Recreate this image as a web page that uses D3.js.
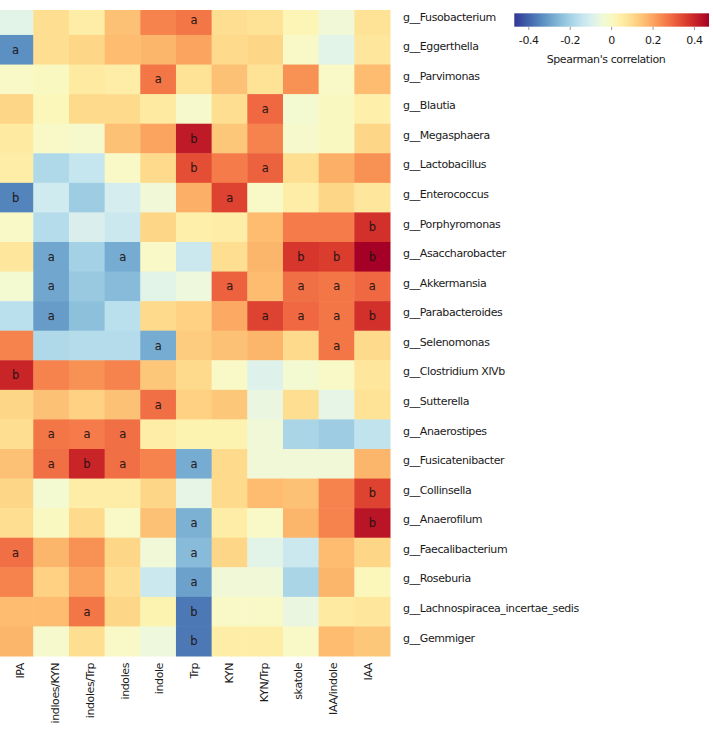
<!DOCTYPE html>
<html><head><meta charset="utf-8">
<script src="https://cdn.jsdelivr.net/npm/d3@7"></script>
<style>
body{margin:0;background:#fff}
svg{display:block}
text{font-family:"DejaVu Sans",Verdana,sans-serif;letter-spacing:-0.4px}
</style>
</head><body><svg id="chart" width="713" height="732"></svg>
<script>
const columns = ["IPA","indloes/KYN","indoles/Trp","indoles","indole","Trp","KYN","KYN/Trp","skatole","IAA/indole","IAA"];
const genera = ["g__Fusobacterium","g__Eggerthella","g__Parvimonas","g__Blautia","g__Megasphaera","g__Lactobacillus","g__Enterococcus","g__Porphyromonas","g__Asaccharobacter","g__Akkermansia","g__Parabacteroides","g__Selenomonas","g__Clostridium XlVb","g__Sutterella","g__Anaerostipes","g__Fusicatenibacter","g__Collinsella","g__Anaerofilum","g__Faecalibacterium","g__Roseburia","g__Lachnospiracea_incertae_sedis","g__Gemmiger"];
const rho = [
  [-0.08, 0.09, 0.05, 0.15, 0.25, 0.27, 0.09, 0.08, 0.02,-0.04, 0.08],
  [-0.33, 0.09, 0.11, 0.16, 0.17, 0.20, 0.10, 0.11,-0.01,-0.08, 0.07],
  [-0.01, 0.00, 0.06, 0.05, 0.27, 0.08, 0.15, 0.08, 0.23,-0.01, 0.16],
  [ 0.11, 0.01, 0.10, 0.10, 0.06,-0.02, 0.09, 0.29,-0.03, 0.00, 0.04],
  [ 0.06,-0.01,-0.02, 0.15, 0.20, 0.42, 0.14, 0.25,-0.02, 0.00, 0.11],
  [ 0.05,-0.18,-0.14,-0.01, 0.10, 0.33, 0.26, 0.30, 0.09, 0.18, 0.23],
  [-0.35,-0.12,-0.21,-0.11,-0.04, 0.18, 0.35,-0.01, 0.05, 0.11, 0.07],
  [-0.01,-0.17,-0.10,-0.13, 0.11, 0.04, 0.05, 0.16, 0.26, 0.26, 0.38],
  [ 0.07,-0.29,-0.20,-0.28,-0.01,-0.13, 0.09, 0.17, 0.37, 0.36, 0.47],
  [-0.03,-0.29,-0.22,-0.25,-0.08,-0.05, 0.30, 0.16, 0.28, 0.27, 0.29],
  [-0.16,-0.31,-0.24,-0.16, 0.10, 0.12, 0.19, 0.35, 0.29, 0.27, 0.38],
  [ 0.25,-0.18,-0.17,-0.17,-0.28, 0.13, 0.15, 0.17, 0.10, 0.27, 0.10],
  [ 0.40, 0.25, 0.23, 0.25, 0.14, 0.10,-0.01,-0.09,-0.03,-0.01, 0.07],
  [ 0.11, 0.15, 0.12, 0.15, 0.28, 0.12, 0.14,-0.06, 0.09,-0.07, 0.08],
  [ 0.09, 0.27, 0.26, 0.28, 0.05, 0.03, 0.03,-0.04,-0.19,-0.21,-0.15],
  [ 0.15, 0.28, 0.40, 0.28, 0.25,-0.28, 0.10,-0.04,-0.04,-0.04, 0.17],
  [ 0.11,-0.03, 0.05, 0.05, 0.11,-0.07, 0.10, 0.16, 0.15, 0.25, 0.35],
  [ 0.09, 0.00, 0.10,-0.01, 0.15,-0.27, 0.05,-0.01, 0.17, 0.25, 0.43],
  [ 0.28, 0.17, 0.23, 0.11,-0.04,-0.25, 0.11,-0.08,-0.13, 0.16, 0.11],
  [ 0.25, 0.12, 0.20, 0.09,-0.13,-0.30,-0.04,-0.04,-0.19, 0.17, 0.01],
  [ 0.16, 0.16, 0.27, 0.11, 0.03,-0.37,-0.01,-0.01,-0.06, 0.06, 0.07],
  [ 0.17,-0.02, 0.09,-0.01,-0.05,-0.37, 0.05, 0.05,-0.01, 0.16, 0.14]
];
const signif = [
  ["","","","","","a","","","","",""],
  ["a","","","","","","","","","",""],
  ["","","","","a","","","","","",""],
  ["","","","","","","","a","","",""],
  ["","","","","","b","","","","",""],
  ["","","","","","b","","a","","",""],
  ["b","","","","","","a","","","",""],
  ["","","","","","","","","","","b"],
  ["","a","","a","","","","","b","b","b"],
  ["","a","","","","","a","","a","a","a"],
  ["","a","","","","","","a","a","a","b"],
  ["","","","","a","","","","","a",""],
  ["b","","","","","","","","","",""],
  ["","","","","a","","","","","",""],
  ["","a","a","a","","","","","","",""],
  ["","a","b","a","","a","","","","",""],
  ["","","","","","","","","","","b"],
  ["","","","","","a","","","","","b"],
  ["a","","","","","a","","","","",""],
  ["","","","","","a","","","","",""],
  ["","","a","","","b","","","","",""],
  ["","","","","","b","","","","",""]
];
const legendTicks = [-0.4, -0.2, 0, 0.2, 0.4];
const legendTitle = "Spearman's correlation";

const svg = d3.select("#chart");
const x = d3.scaleBand().domain(columns).range([-2.4, 390]);
const y = d3.scaleBand().domain(genera).range([5.4, 656]);
const color = d3.scaleSequential(t => d3.interpolateRdYlBu(1 - t)).domain([-0.47, 0.47]);

svg.append("defs").append("clipPath").attr("id","clipGrid")
  .append("rect").attr("x",0).attr("y",10).attr("width",400).attr("height",660);

const cells = [];
rho.forEach((row, i) => row.forEach((v, j) => cells.push({g: genera[i], c: columns[j], v, s: signif[i][j]})));

const grid = svg.append("g").attr("clip-path","url(#clipGrid)");
grid.selectAll("rect").data(cells).join("rect")
  .attr("x", d => x(d.c)).attr("y", d => y(d.g))
  .attr("width", x.bandwidth() + 0.5).attr("height", y.bandwidth() + 0.5)
  .attr("fill", d => color(d.v));

grid.selectAll("text").data(cells.filter(d => d.s)).join("text")
  .attr("x", d => x(d.c) + x.bandwidth()/2)
  .attr("y", d => y(d.g) + y.bandwidth()/2)
  .attr("dy","0.35em").attr("text-anchor","middle")
  .attr("font-size", 11.5).attr("fill","#1e1212").attr("fill-opacity",0.9)
  .attr("stroke","#1e1212").attr("stroke-width",0.25).attr("stroke-opacity",0.6)
  .attr("letter-spacing", 0)
  .text(d => d.s);

// row labels
svg.append("g").selectAll("text").data(genera).join("text")
  .attr("x", 403).attr("y", d => y(d) + y.bandwidth()/2 - 3.5)
  .attr("dy","0.35em").attr("font-size",11).attr("fill","#1a1a1a")
  .text(d => d);

// column labels
const xl = d3.scalePoint().domain(columns).range([20.5, 368]);
svg.append("g").selectAll("text").data(columns).join("text")
  .attr("transform", d => `translate(${xl(d)},663) rotate(-90)`)
  .attr("dy","0.35em").attr("text-anchor","end").attr("font-size",11).attr("fill","#1a1a1a")
  .text(d => d);

// legend
const lx = d3.scaleLinear().domain([-0.47, 0.47]).range([514.3, 709]);
const grad = svg.select("defs").append("linearGradient").attr("id","lg")
  .attr("x1","0%").attr("x2","100%").attr("y1","0%").attr("y2","0%");
d3.range(0, 1.0001, 0.05).forEach(t => grad.append("stop")
  .attr("offset", (t*100)+"%").attr("stop-color", d3.interpolateRdYlBu(1 - t)));
svg.append("rect").attr("x", lx(-0.47)).attr("y", 13.3)
  .attr("width", lx(0.47) - lx(-0.47)).attr("height", 13.4).attr("fill","url(#lg)");
const lg = svg.append("g");
lg.selectAll("line").data(legendTicks).join("line")
  .attr("x1", d => lx(d)).attr("x2", d => lx(d)).attr("y1", 26.7).attr("y2", 30)
  .attr("stroke","#999").attr("stroke-width",1);
lg.selectAll("text").data(legendTicks).join("text")
  .attr("x", d => lx(d)).attr("y", 40).attr("dy","0.35em")
  .attr("text-anchor","middle").attr("font-size",11).attr("fill","#1a1a1a")
  .text(d => String(d));
svg.append("text").attr("x", 606).attr("y", 59).attr("dy","0.35em")
  .attr("text-anchor","middle").attr("font-size",11).attr("fill","#1a1a1a")
  .text(legendTitle);
</script>
</body></html>
